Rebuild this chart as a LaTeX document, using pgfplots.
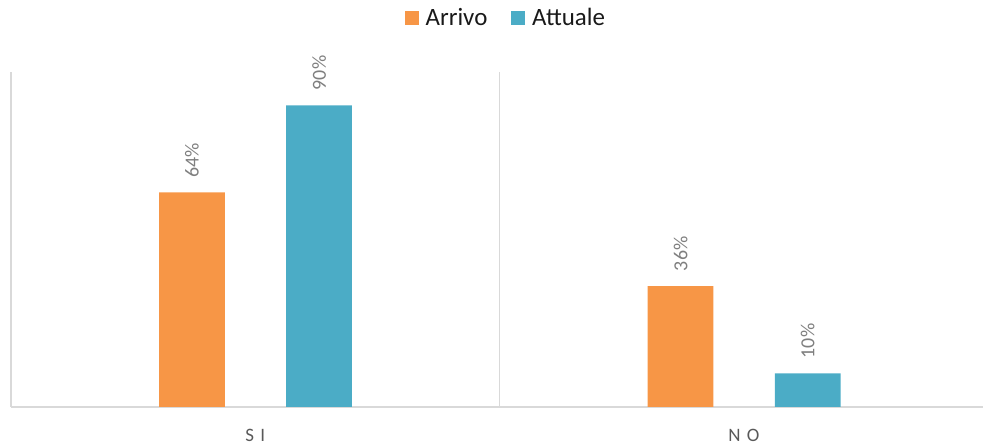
\documentclass[border=0pt]{standalone}
\usepackage{fontspec}
\setmainfont{Carlito}
\usepackage{pgfplots}
\pgfplotsset{compat=1.18}
\definecolor{arrivo}{HTML}{F79646}
\definecolor{attuale}{HTML}{4BACC6}
\definecolor{axgray}{HTML}{D9D9D9}
\definecolor{lblgray}{HTML}{7F7F7F}
\definecolor{catgray}{HTML}{595959}
\begin{document}
\begin{tikzpicture}
\begin{axis}[
  scale only axis,
  width=975bp, height=336bp,
  at={(0,0)}, anchor=south west,
  ymin=0, ymax=100,
  xmin=-0.5, xmax=1.49,
  ybar, bar width=66bp,
  /pgf/number format/assume math mode=true,
  axis x line*=bottom, axis y line*=left,
  x axis line style={-, draw=axgray, line width=1.5bp},
  y axis line style={-, draw=axgray, line width=1.5bp},
  xtick={0,1}, xticklabels={S\,\,I, N\,\,O},
  xtick style={draw=none},
  ytick=\empty,
  extra x ticks={0.5}, extra x tick labels={},
  extra x tick style={grid=major, major grid style={draw=axgray, line width=1.5bp}, tick style={draw=none}},
  xticklabel style={font=\fontsize{19bp}{22bp}\selectfont, text=catgray, yshift=-15bp},
  nodes near coords={\pgfmathprintnumber{\pgfplotspointmeta}\%},
  every node near coord/.append style={rotate=90, anchor=west, inner xsep=15bp, inner ysep=0pt, font=\fontsize{20bp}{24bp}\selectfont, text=lblgray},
  legend columns=2,
  legend style={draw=none, fill=none, at={(0.509,1.161)}, anchor=center,
    font=\fontsize{25bp}{28bp}\selectfont, text=black!90,
    /tikz/every odd column/.append style={column sep=5bp},
    /tikz/every even column/.append style={column sep=22bp}},
  legend image code/.code={\fill[#1] (0bp,-7bp) rectangle (14bp,7bp);},
]
\addplot[fill=arrivo, draw=none, bar shift=-63.5bp] coordinates {(0,64) (1,36)};
\addplot[fill=attuale, draw=none, bar shift=64bp] coordinates {(0,90) (1,10)};
\legend{Arrivo, Attuale}
\end{axis}
\path[use as bounding box] (-11bp,-40bp) rectangle (973bp,408bp);
\end{tikzpicture}
\end{document}
